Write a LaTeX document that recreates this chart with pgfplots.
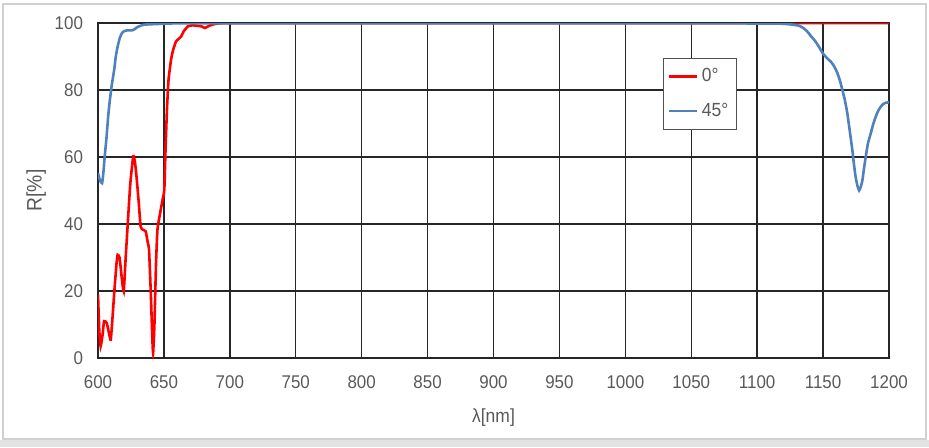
\documentclass[border=0pt]{standalone}
\usepackage{pgfplots}
\pgfplotsset{compat=1.18}
\usepackage{fontspec}
\setmainfont{Liberation Sans}[FakeStretch=0.92]
\definecolor{redline}{HTML}{FF0000}
\definecolor{blueline}{HTML}{4F81BD}
\definecolor{txtgray}{HTML}{595959}
\definecolor{gridc}{HTML}{262626}
\definecolor{framec}{HTML}{D0D0D0}
\pgfplotstableread{
x y
600 18.9
601 8
602 3.5
603.5 7
604.6 11
606.7 10.4
608.5 7
609.7 5.5
611 12
612.3 19.4
614 28
614.9 30.8
616.4 29.9
618 24
619.5 19.9
621 30
622.6 40.3
624.5 52
626.7 60.2
628 58.5
629.2 54.2
631 46
632.3 39.3
634 38.3
636.2 37.8
637.5 35
638.7 32.3
640 20
641.2 6
641.8 1.5
642.8 10
644 28
645.1 38.3
647 43
649 47.3
650.3 50.2
651.2 62
652.3 74.1
653.5 83
655.4 89
657 92
659.2 94.5
661 95.2
663.1 96
665 97.5
668.2 99
672 99.3
678.5 99
681 98.5
684 99.1
688.7 99.7
700 100
800 100
900 100
1000 100
1100 100
1200 100
}\redtab
\pgfplotstableread{
x y
600 55.2
601.5 53
603.1 52.2
604 55
605.1 60.2
606.5 66
607.7 72.1
609 77
610.3 81.1
612.3 86.1
613.5 90
614.9 93
616.5 95.5
618.2 97
620 97.6
622 97.8
626 97.8
628 98.2
629.9 98.8
635 99.5
645 99.7
660 99.9
700 99.9
800 99.9
900 99.9
1000 99.9
1080 99.9
1110 99.8
1117.7 99.8
1125 99.6
1131.6 99.2
1135 98.5
1137.9 97.5
1141 96
1144.2 94.5
1147 92.8
1149.7 91
1153 89.5
1155.8 88.5
1158.5 87
1160.9 85
1163 82.5
1164.6 80
1166.5 77
1168.4 73
1170.5 67
1172.2 62
1173.5 57.5
1174.7 54
1176 51.5
1177.3 50
1178.5 51
1179.8 53
1181 56.5
1182.3 60
1184 64
1186.1 67
1188 69.8
1189.9 72
1191.8 73.8
1193.7 75
1195.5 75.8
1197.5 76.2
1200 76.3
}\bluetab
\begin{document}
\begin{tikzpicture}
\useasboundingbox (0,0) rectangle (464.5pt,223.5pt);
\fill[framec!60] (0,0) rectangle (464.5pt,3.5pt);
\draw[framec, line width=0.6pt] (1.5pt,4pt) rectangle (463pt,221.5pt);
\begin{axis}[
  at={(49pt,44.5pt)}, anchor=south west,
  scale only axis, width=395.5pt, height=167.5pt,
  xmin=600, xmax=1200, ymin=0, ymax=100,
  xtick={600,650,...,1200}, ytick={0,20,...,100},
  grid=major,
  major grid style={gridc, line width=0.7pt},
  axis line style={gridc, line width=0.7pt},
  major tick length=0pt,
  tick label style={font=\fontsize{9.2}{11}\selectfont, text=txtgray},
  /pgf/number format/assume math mode=true,
  /pgf/number format/1000 sep={},
  xticklabel style={yshift=-5.5pt},
  yticklabel style={xshift=-4pt},
  xlabel={λ[nm]}, ylabel={R[\%]},
  xlabel style={font=\fontsize{9.5}{11}\selectfont, text=txtgray, yshift=-3pt},
  ylabel style={font=\fontsize{10.5}{12}\selectfont, text=txtgray, yshift=-2.5pt},
  legend style={at={(0.714,0.8955)}, anchor=north west, draw=gridc!80, line width=0.6pt,
    font=\fontsize{9.5}{11}\selectfont, text=txtgray, inner xsep=2pt, inner ysep=3pt, row sep=5pt},
  legend cell align=left,
  legend image code/.code={\draw[#1] (0pt,0pt) -- (14pt,0pt);},
]
\addplot[redline, line width=1.3pt, smooth, tension=0.3] table[x=x,y=y] {\redtab};
\addlegendentry{0°}
\addplot[blueline, line width=1.3pt, smooth, tension=0.3] table[x=x,y=y] {\bluetab};
\addlegendentry{45°}
\end{axis}
\end{tikzpicture}
\end{document}
